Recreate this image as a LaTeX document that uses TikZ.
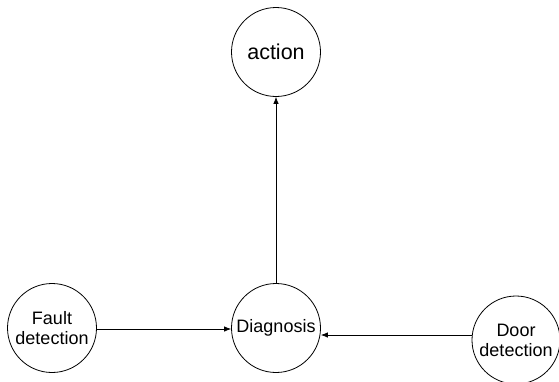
\documentclass[tikz,border=0pt]{standalone}
\usepackage{fontspec}
\setmainfont{Liberation Sans}
\usetikzlibrary{arrows.meta}
\begin{document}
\begin{tikzpicture}[x=1pt,y=-1pt,
  state/.style={draw, circle, line width=0.8pt, minimum size=89pt, inner sep=0pt,
    align=center, font=\fontsize{18}{20}\selectfont},
  flow/.style={line width=0.8pt, -{Latex[length=7pt,width=5.5pt]}}]
  \useasboundingbox (0,0) rectangle (559,381);
  \node[state, font=\fontsize{21.5}{25}\selectfont] (action) at (276,52) {action};
  \node[state] (diag) at (276,328) {Diagnosis};
  \node[state] (fault) at (52,328) {Fault\\detection};
  \node[state, minimum size=88pt] (door) at (516,340) {Door\\detection};
  \draw[flow] (fault.east |- 0,329) -- (diag.west |- 0,329);
  \draw[flow] (door.west |- 0,335) -- (diag.east |- 0,335);
  \draw[flow] (diag.north) -- (action.south);
\end{tikzpicture}
\end{document}
